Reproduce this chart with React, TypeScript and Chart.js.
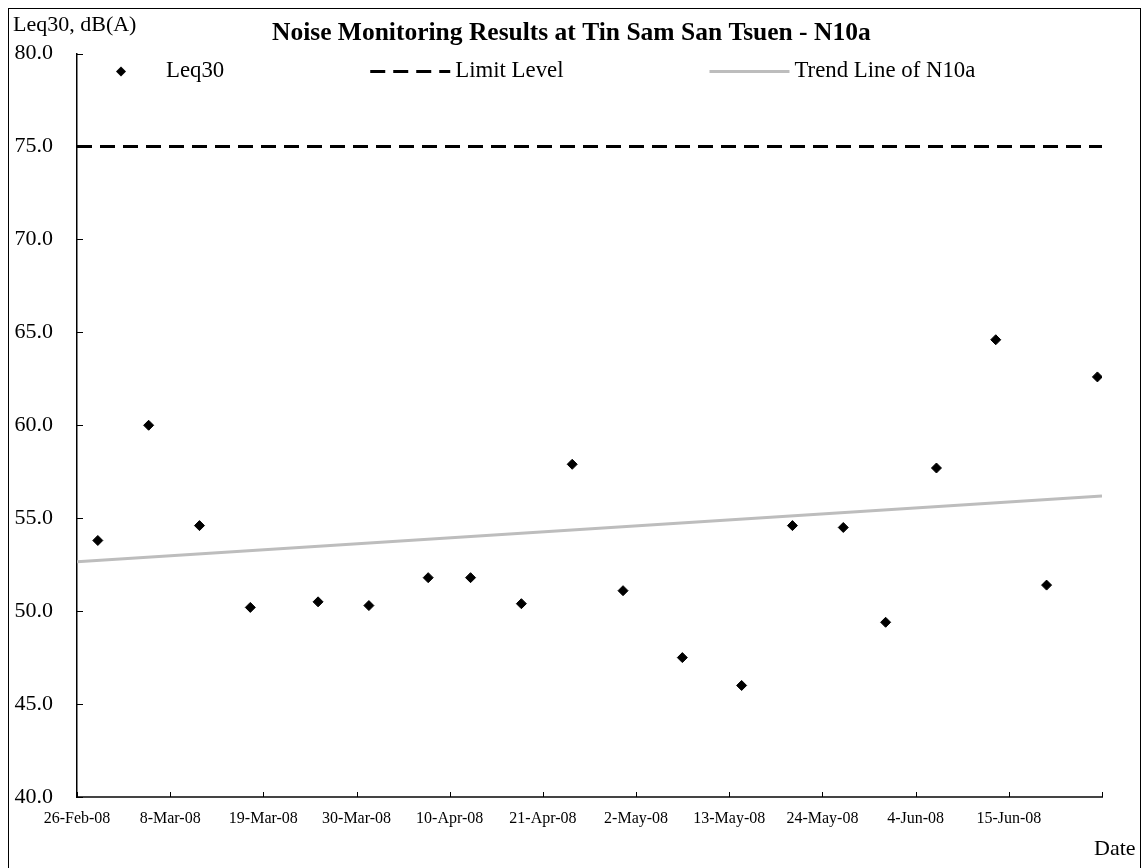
import React, { useEffect, useRef } from 'react';
import { Chart, registerables } from 'chart.js';

Chart.register(...registerables);

// ---- Data ----
const axisStartDate = '2008-02-26';
const axisEndDate = '2008-06-26';
const sampleDates = [
  '2008-02-28 11:00', '2008-03-05 11:00', '2008-03-11 11:00', '2008-03-17 11:00',
  '2008-03-25 11:00', '2008-03-31 11:00', '2008-04-07 11:00', '2008-04-12 11:00',
  '2008-04-18 11:00', '2008-04-24 11:00', '2008-04-30 11:00', '2008-05-07 11:00',
  '2008-05-14 11:00', '2008-05-20 11:00', '2008-05-26 11:00', '2008-05-31 11:00',
  '2008-06-06 11:00', '2008-06-13 11:00', '2008-06-19 11:00', '2008-06-25 11:00',
];
const leq30Values = [
  53.8, 60.0, 54.6, 50.2, 50.5, 50.3, 51.8, 51.8, 50.4, 57.9,
  51.1, 47.5, 46.0, 54.6, 54.5, 49.4, 57.7, 64.6, 51.4, 62.6,
];
const limitDates = [axisStartDate, axisEndDate];
const limitValues = [75.0, 75.0];
const trendDates = [axisStartDate, axisEndDate];
const trendValues = [52.65, 56.19];
const xTickLabels = [
  '26-Feb-08', '8-Mar-08', '19-Mar-08', '30-Mar-08', '10-Apr-08', '21-Apr-08',
  '2-May-08', '13-May-08', '24-May-08', '4-Jun-08', '15-Jun-08', '',
];
const xTickStepDays = 11;
const yMin = 40;
const yMax = 80;
const yStep = 5;

const titleText = 'Noise Monitoring Results at Tin Sam San Tsuen - N10a';
const yAxisTitle = 'Leq30, dB(A)';
const xAxisTitle = 'Date';
const seriesNames = ['Leq30', 'Limit Level', 'Trend Line of N10a'];

// ---- helpers ----
const FONT = "'Liberation Serif', 'Times New Roman', serif";

function toMs(s: string): number {
  const [d, t] = s.split(' ');
  const [Y, M, D] = d.split('-').map(Number);
  let ms = Date.UTC(Y, M - 1, D);
  if (t) {
    const [h, mi] = t.split(':').map(Number);
    ms += (h * 60 + mi) * 60000;
  }
  return ms;
}
const startMs = toMs(axisStartDate);
const toDay = (s: string) => (toMs(s) - startMs) / 86400000;

const decorPlugin = {
  id: 'decor',
  afterDraw(chart: any) {
    const ctx = chart.ctx;
    const { left, bottom } = chart.chartArea;
    const xs = chart.scales.x;
    const ys = chart.scales.y;
    ctx.save();
    // inward tick marks
    ctx.strokeStyle = '#000';
    ctx.lineWidth = 1;
    ys.ticks.forEach((t: any) => {
      const y = Math.round(ys.getPixelForValue(t.value)) + 0.5;
      ctx.beginPath();
      ctx.moveTo(left, y);
      ctx.lineTo(left + 6, y);
      ctx.stroke();
    });
    xs.ticks.forEach((t: any) => {
      const x = Math.round(xs.getPixelForValue(t.value)) + 0.5;
      ctx.beginPath();
      ctx.moveTo(x, bottom);
      ctx.lineTo(x, bottom - 5);
      ctx.stroke();
    });

    // title
    ctx.fillStyle = '#000';
    ctx.textBaseline = 'middle';
    ctx.textAlign = 'left';
    ctx.font = `bold 25.5px ${FONT}`;
    ctx.fillText(titleText, 263, 24);

    // axis titles
    ctx.font = `22px ${FONT}`;
    ctx.fillText(yAxisTitle, 4, 16);
    ctx.fillText(xAxisTitle, 1085, 840);

    // legend
    const ly = 62.5;
    let x = 72;
    chart.data.datasets.forEach((ds: any, i: number) => {
      const boxW = 80;
      if (i === 0) {
        const cx = x + boxW / 2;
        const r = 5;
        ctx.beginPath();
        ctx.moveTo(cx - r, ly);
        ctx.lineTo(cx, ly - r);
        ctx.lineTo(cx + r, ly);
        ctx.lineTo(cx, ly + r);
        ctx.closePath();
        ctx.fillStyle = ds.backgroundColor;
        ctx.fill();
      } else {
        ctx.beginPath();
        ctx.setLineDash(ds.borderDash || []);
        ctx.strokeStyle = ds.borderColor;
        ctx.lineWidth = ds.borderWidth;
        ctx.moveTo(x, ly);
        ctx.lineTo(x + boxW, ly);
        ctx.stroke();
        ctx.setLineDash([]);
      }
      const tx = x + boxW + 5;
      ctx.fillStyle = '#000';
      ctx.font = `22.8px ${FONT}`;
      ctx.fillText(ds.label, tx, ly);
      x = tx + ctx.measureText(ds.label).width + 146;
    });
    ctx.restore();
  },
};

export default function App() {
  const ref = useRef<HTMLCanvasElement | null>(null);
  useEffect(() => {
    if (!ref.current) return;
    const endDay = toDay(axisEndDate);
    const chart = new Chart(ref.current, {
      type: 'scatter',
      data: {
        datasets: [
          {
            label: seriesNames[0],
            data: sampleDates.map((d, i) => ({ x: toDay(d), y: leq30Values[i] })),
            pointStyle: 'rectRot',
            pointRadius: 5,
            backgroundColor: '#000',
            borderColor: '#000',
            borderWidth: 1,
            showLine: false,
          },
          {
            label: seriesNames[1],
            data: limitDates.map((d, i) => ({ x: toDay(d), y: limitValues[i] })),
            showLine: true,
            borderColor: '#000',
            backgroundColor: '#000',
            borderWidth: 3,
            borderDash: [15, 8],
            pointRadius: 0,
          },
          {
            label: seriesNames[2],
            data: trendDates.map((d, i) => ({ x: toDay(d), y: trendValues[i] })),
            showLine: true,
            borderColor: '#bdbdbd',
            backgroundColor: '#bdbdbd',
            borderWidth: 3,
            pointRadius: 0,
          },
        ],
      },
      options: {
        responsive: false,
        animation: false,
        devicePixelRatio: 1,
        layout: { padding: { left: 0, right: 38, top: 44.5, bottom: 0 } },
        plugins: {
          legend: { display: false },
          tooltip: { enabled: false },
          title: { display: false, text: titleText },
        },
        scales: {
          x: {
            type: 'linear',
            min: 0,
            max: endDay,
            grid: { display: false, drawTicks: false },
            border: { display: true, color: '#444', width: 2 },
            ticks: {
              stepSize: xTickStepDays,
              autoSkip: false,
              maxRotation: 0,
              padding: 12,
              color: '#000',
              font: { family: FONT, size: 16 },
              callback: (_v: any, i: number) => xTickLabels[i] ?? '',
            },
            afterFit: (s: any) => { s.height = 72; },
          },
          y: {
            min: yMin,
            max: yMax,
            grid: { display: false, drawTicks: false },
            border: { display: true, color: '#000', width: 1.5 },
            ticks: {
              stepSize: yStep,
              padding: 24,
              color: '#000',
              font: { family: FONT, size: 22 },
              callback: (v: any) => Number(v).toFixed(1),
            },
            afterFit: (s: any) => { s.width = 68; },
          },
        },
      },
      plugins: [decorPlugin],
    } as any);
    return () => chart.destroy();
  }, []);

  return (
    <div
      style={{
        position: 'fixed',
        left: 8,
        top: 8,
        width: 1133,
        height: 862,
        border: '1px solid #000',
        boxSizing: 'border-box',
        background: '#fff',
      }}
    >
      <canvas ref={ref} width={1131} height={860} style={{ display: 'block' }} />
    </div>
  );
}
